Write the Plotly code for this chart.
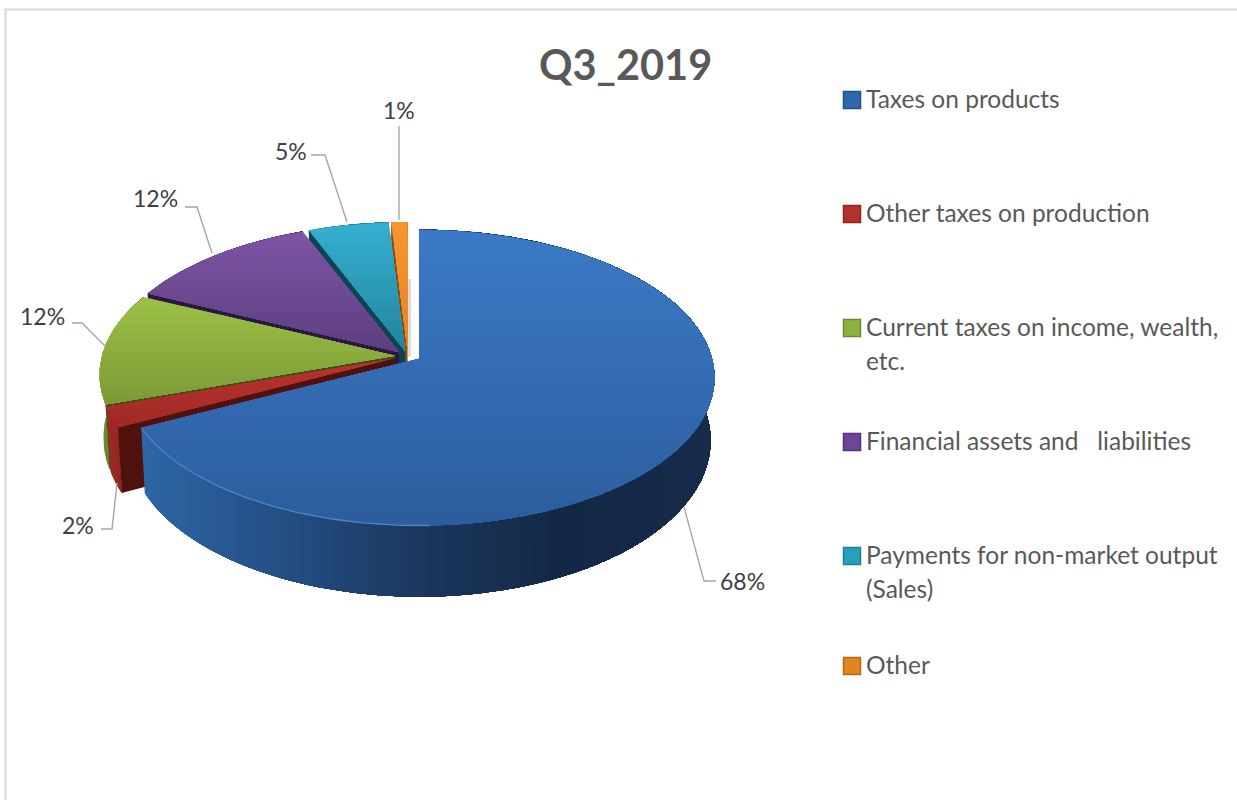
import numpy as np
import plotly.graph_objects as go

# ---- data ----
title = "Q3_2019"
categories = ["Taxes on products", "Other taxes on production",
              "Current taxes on income, wealth,\netc.", "Financial assets and   liabilities",
              "Payments for non-market output\n(Sales)", "Other"]
values = [67.6, 2.2, 12.2, 12.0, 5.0, 1.0]
pct_labels = ["68%", "2%", "12%", "12%", "5%", "1%"]

# ---- styling ----
top_grad = [("#3b79c6", "#2c5e9e"), ("#b8322e", "#a12a26"), ("#9bc045", "#7c9b37"),
            ("#7d53a3", "#5e3f80"), ("#33aecf", "#24859d"), ("#f99433", "#e58320")]
rim_stops = [
    [(130, "#2e67a9"), (300, "#234b7f"), (420, "#1b375e"), (560, "#142845"), (720, "#162c4b")],
    [(100, "#a62b27"), (125, "#8a2320")],
    [(100, "#6f8c2f"), (130, "#5c7527")],
    [(100, "#5a3c7a"), (400, "#4a3065")],
    [(300, "#1f7488"), (400, "#1a6272")],
    [(380, "#c9701b"), (410, "#b9651a")],
]
wall_col = ["#1d3c66", "#4f110e", "#3c4d18", "#2a1840", "#0c4453", "#8a4c10"]
legend_col = ["#2e69ae", "#b5302c", "#8db03f", "#6b479a", "#2a9fbd", "#e0851f"]
legend_edge = ["#22528c", "#8f2421", "#6e8a30", "#523577", "#1f7d95", "#b5681a"]
TEXT = "#595959"
FONT = "Lato"
LEAD = "#a6a6a6"

# ---- projection of the tilted pie onto the pixel-ranged axes ----
CX, CY, RX, A, K, DEPTH = 408, 356, 293, 145.6, 0.128, 62
EX, EY = 13, 5
BOTTOM_SCALE = 0.987


def hex2rgb(h):
    return np.array([int(h[i:i + 2], 16) for i in (1, 3, 5)], float)


def mix(a, b, t):
    c = hex2rgb(a) * (1 - t) + hex2rgb(b) * t
    return "rgb(%d,%d,%d)" % tuple(c.round())


def clip(poly, axis, limit):
    """Keep the part of the polygon whose coordinate on `axis` is >= limit."""
    out = []
    n = len(poly)
    for i in range(n):
        p, q = poly[i], poly[(i + 1) % n]
        pin, qin = p[axis] >= limit, q[axis] >= limit
        if pin:
            out.append(p)
        if pin != qin:
            t = (limit - p[axis]) / (q[axis] - p[axis])
            out.append((p[0] + t * (q[0] - p[0]), p[1] + t * (q[1] - p[1])))
    return out


fig = go.Figure()


def fill(poly, color):
    if len(poly) < 3:
        return
    xs = [p[0] for p in poly] + [poly[0][0]]
    ys = [p[1] for p in poly] + [poly[0][1]]
    fig.add_trace(go.Scatter(x=xs, y=ys, mode="lines", fill="toself", fillcolor=color,
                             line=dict(width=0, color=color), hoverinfo="skip", showlegend=False))


def line(xs, ys, color, width=1.3):
    fig.add_trace(go.Scatter(x=xs, y=ys, mode="lines", line=dict(color=color, width=width),
                             hoverinfo="skip", showlegend=False))


# frame
line([5.5, 5.5, 1245], [810, 9.5, 9.5], "#d9d9d9", 2.2)

edges = np.cumsum([0] + values) / sum(values) * 2 * np.pi

# white gap shadow next to the blue slice
shadow_x = CX + 1.5
line([shadow_x, shadow_x], [279, 357], "#d5d5d5", 2.5)

for i in reversed(range(len(values))):
    a0, a1 = edges[i], edges[i + 1]
    mid = (a0 + a1) / 2
    ax = CX + EX * np.sin(mid)
    ay = CY - EY * np.cos(mid)
    th = np.linspace(a0, a1, max(6, int((a1 - a0) * 90)))
    w = 1 + K * np.cos(th)
    rx = ax + RX * np.sin(th) / w
    ry = ay - A * np.cos(th) / w
    d = DEPTH / w
    bx = ax + (rx - ax) * BOTTOM_SCALE
    top_arc = list(zip(rx, ry))
    bot_arc = list(zip(bx, ry + d))

    # outer wall, shaded left to right
    rim = top_arc + bot_arc[::-1]
    stops = rim_stops[i]
    xs_s = [s[0] for s in stops]
    xmin, xmax = min(p[0] for p in rim), max(p[0] for p in rim)
    for xk in np.arange(xmin, xmax, 5.0):
        k = np.searchsorted(xs_s, xk)
        k = min(max(k, 1), len(stops) - 1)
        t = np.clip((xk - xs_s[k - 1]) / (xs_s[k] - xs_s[k - 1]), 0, 1)
        fill(clip(rim, 0, xk), mix(stops[k - 1][1], stops[k][1], t))

    # the radial wall that faces the viewer
    if i > 0:
        fill([(ax, ay), top_arc[0], bot_arc[0], (ax, ay + DEPTH)], wall_col[i])

    # top face, shaded top to bottom
    face = [(ax, ay)] + top_arc
    ymin, ymax = min(p[1] for p in face), max(p[1] for p in face)
    bands = 24 if i == 0 else 12
    for b in range(bands):
        yk = ymin + (ymax - ymin) * b / bands
        fill(clip(face, 1, yk), mix(top_grad[i][0], top_grad[i][1], b / (bands - 1)))

    if i == 0:
        # highlight on the front-left edge of the top face
        sel = (th > np.radians(178)) & (th < a1)
        line(rx[sel], ry[sel], "#4d84c8", 1.3)

# leader lines
leaders = [
    ([716, 704, 684], [581, 581, 507]),
    ([101, 112, 117], [529, 529, 483]),
    ([72, 82, 105], [323, 323, 346]),
    ([185, 197, 212], [207, 207, 253]),
    ([311, 325, 347], [155, 155, 222]),
    ([399, 399], [126, 220]),
]
for lx, ly in leaders:
    line(lx, ly, LEAD, 1.4)

label_pos = [(742, 581), (78, 525), (42, 316), (155, 198), (291, 151), (399, 110)]
for (lx, ly), lab in zip(label_pos, pct_labels):
    fig.add_annotation(x=lx, y=ly, text=lab, showarrow=False, xanchor="center", yanchor="middle",
                       font=dict(family=FONT, size=23, color="#404040"))

# legend
legend_y = [99, 213, 327, 441, 555, 665]
for yy, cat, c, e in zip(legend_y, categories, legend_col, legend_edge):
    fig.add_trace(go.Scatter(x=[852], y=[yy + 1], mode="markers", hoverinfo="skip", showlegend=False,
                             marker=dict(symbol="square", size=17, color=c, line=dict(color=e, width=1.5))))
    for n, part in enumerate(cat.split("\n")):
        fig.add_annotation(x=864, y=yy - 1 + n * 34, text=part, showarrow=False, xanchor="left",
                           yanchor="middle", font=dict(family=FONT, size=24.5, color=TEXT))

fig.add_annotation(x=625, y=64, text="<b>%s</b>" % title, showarrow=False, xanchor="center",
                   yanchor="middle", font=dict(family=FONT, size=41.5, color=TEXT))

fig.update_layout(width=1237, height=800, margin=dict(l=0, r=0, t=0, b=0),
                  paper_bgcolor="white", plot_bgcolor="white", showlegend=False,
                  xaxis=dict(range=[0, 1237], visible=False, fixedrange=True),
                  yaxis=dict(range=[800, 0], visible=False, fixedrange=True))
fig.write_html("out.html", config=dict(displayModeBar=False),
               post_script="document.body.style.margin='0';document.body.style.overflow='hidden';")
